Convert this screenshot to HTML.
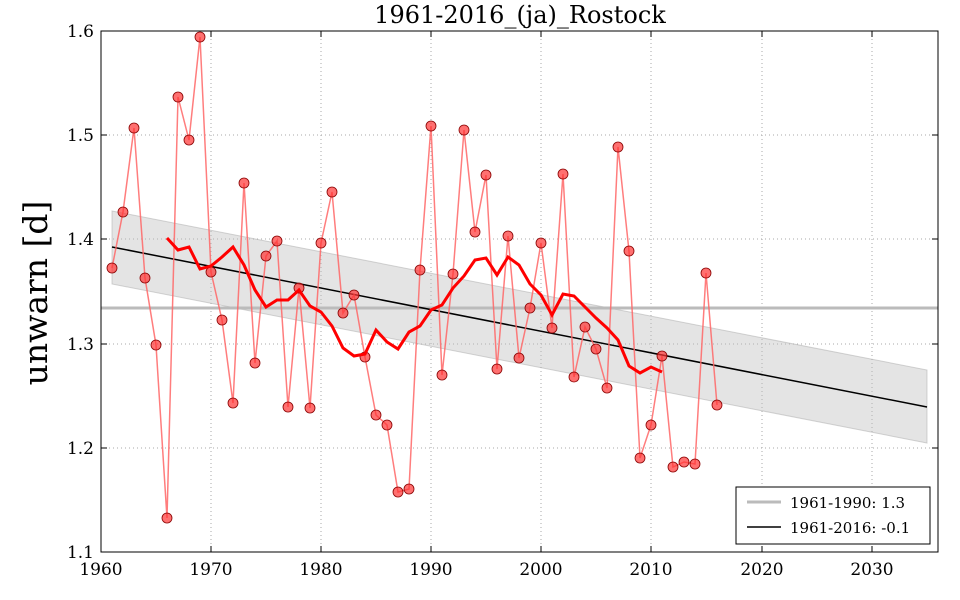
<!DOCTYPE html>
<html><head><meta charset="utf-8"><style>body{margin:0;background:#fff}svg{display:block}</style></head><body>
<svg width="960" height="600" xmlns="http://www.w3.org/2000/svg" font-family="'DejaVu Serif','Liberation Serif',serif">
<rect width="960" height="600" fill="#fff"/>
<g stroke="#aaa" stroke-dasharray="1,3" stroke-width="1">
<line x1="211" y1="31" x2="211" y2="552"/><line x1="321" y1="31" x2="321" y2="552"/><line x1="431" y1="31" x2="431" y2="552"/><line x1="541" y1="31" x2="541" y2="552"/><line x1="651" y1="31" x2="651" y2="552"/><line x1="762" y1="31" x2="762" y2="552"/><line x1="872" y1="31" x2="872" y2="552"/>
<line x1="101" y1="135" x2="938" y2="135"/><line x1="101" y1="239" x2="938" y2="239"/><line x1="101" y1="344" x2="938" y2="344"/><line x1="101" y1="448" x2="938" y2="448"/>
</g>
<polygon points="112,211 927,370 927,443 112,284" fill="#bbb" fill-opacity="0.4" stroke="#aaa" stroke-opacity="0.5"/>
<line x1="101" y1="308" x2="938" y2="308" stroke="#bbb" stroke-width="3"/>
<line x1="112" y1="247" x2="927" y2="407" stroke="#000" stroke-width="1.5"/>
<polyline fill="none" stroke="#f66" stroke-width="1.5" stroke-opacity="0.85" points="112,268 123,212 134,128 145,278 156,345 167,518 178,97 189,140 200,37 211,272 222,320 233,403 244,183 255,363 266,256 277,241 288,407 299,288 310,408 321,243 332,192 343,313 354,295 365,357 376,415 387,425 398,492 409,489 420,270 431,126 442,375 453,274 464,130 475,232 486,175 497,369 508,236 519,358 530,308 541,243 552,328 563,174 574,377 585,327 596,349 607,388 618,147 629,251 640,458 651,425 662,356 673,467 684,462 695,464 706,273 717,405"/>
<g fill="#f33" fill-opacity="0.7" stroke="#800" stroke-width="0.8">
<circle cx="112" cy="268" r="5"/><circle cx="123" cy="212" r="5"/><circle cx="134" cy="128" r="5"/><circle cx="145" cy="278" r="5"/><circle cx="156" cy="345" r="5"/><circle cx="167" cy="518" r="5"/><circle cx="178" cy="97" r="5"/><circle cx="189" cy="140" r="5"/><circle cx="200" cy="37" r="5"/><circle cx="211" cy="272" r="5"/><circle cx="222" cy="320" r="5"/><circle cx="233" cy="403" r="5"/><circle cx="244" cy="183" r="5"/><circle cx="255" cy="363" r="5"/><circle cx="266" cy="256" r="5"/><circle cx="277" cy="241" r="5"/><circle cx="288" cy="407" r="5"/><circle cx="299" cy="288" r="5"/><circle cx="310" cy="408" r="5"/><circle cx="321" cy="243" r="5"/><circle cx="332" cy="192" r="5"/><circle cx="343" cy="313" r="5"/><circle cx="354" cy="295" r="5"/><circle cx="365" cy="357" r="5"/><circle cx="376" cy="415" r="5"/><circle cx="387" cy="425" r="5"/><circle cx="398" cy="492" r="5"/><circle cx="409" cy="489" r="5"/><circle cx="420" cy="270" r="5"/><circle cx="431" cy="126" r="5"/><circle cx="442" cy="375" r="5"/><circle cx="453" cy="274" r="5"/><circle cx="464" cy="130" r="5"/><circle cx="475" cy="232" r="5"/><circle cx="486" cy="175" r="5"/><circle cx="497" cy="369" r="5"/><circle cx="508" cy="236" r="5"/><circle cx="519" cy="358" r="5"/><circle cx="530" cy="308" r="5"/><circle cx="541" cy="243" r="5"/><circle cx="552" cy="328" r="5"/><circle cx="563" cy="174" r="5"/><circle cx="574" cy="377" r="5"/><circle cx="585" cy="327" r="5"/><circle cx="596" cy="349" r="5"/><circle cx="607" cy="388" r="5"/><circle cx="618" cy="147" r="5"/><circle cx="629" cy="251" r="5"/><circle cx="640" cy="458" r="5"/><circle cx="651" cy="425" r="5"/><circle cx="662" cy="356" r="5"/><circle cx="673" cy="467" r="5"/><circle cx="684" cy="462" r="5"/><circle cx="695" cy="464" r="5"/><circle cx="706" cy="273" r="5"/><circle cx="717" cy="405" r="5"/>
</g>
<polyline fill="none" stroke="#f00" stroke-width="3" points="167,238 178,250 189,247 200,269 211,266 222,257 233,247 244,265 255,290 266,307 277,300 288,300 299,290 310,306 321,312 332,326 343,348 354,356 365,354 376,330 387,342 398,349 409,332 420,326 431,310 442,305 453,288 464,276 475,260 486,258 497,275 508,257 519,265 530,284 541,295 552,315 563,294 574,296 585,307 596,318 607,328 618,340 629,366 640,373 651,367 662,372"/>
<rect x="101" y="31" width="837" height="521" fill="none" stroke="#000" stroke-width="1"/>
<g stroke="#000">
<line x1="211" y1="552" x2="211" y2="546"/><line x1="321" y1="552" x2="321" y2="546"/><line x1="431" y1="552" x2="431" y2="546"/><line x1="541" y1="552" x2="541" y2="546"/><line x1="651" y1="552" x2="651" y2="546"/><line x1="762" y1="552" x2="762" y2="546"/><line x1="872" y1="552" x2="872" y2="546"/>
<line x1="211" y1="31" x2="211" y2="37"/><line x1="321" y1="31" x2="321" y2="37"/><line x1="431" y1="31" x2="431" y2="37"/><line x1="541" y1="31" x2="541" y2="37"/><line x1="651" y1="31" x2="651" y2="37"/><line x1="762" y1="31" x2="762" y2="37"/><line x1="872" y1="31" x2="872" y2="37"/>
<line x1="101" y1="135" x2="107" y2="135"/><line x1="101" y1="239" x2="107" y2="239"/><line x1="101" y1="344" x2="107" y2="344"/><line x1="101" y1="448" x2="107" y2="448"/>
<line x1="938" y1="135" x2="932" y2="135"/><line x1="938" y1="239" x2="932" y2="239"/><line x1="938" y1="344" x2="932" y2="344"/><line x1="938" y1="448" x2="932" y2="448"/>
</g>
<g font-size="17" text-anchor="middle">
<text x="101" y="575">1960</text><text x="211" y="575">1970</text><text x="321" y="575">1980</text><text x="431" y="575">1990</text><text x="541" y="575">2000</text><text x="651" y="575">2010</text><text x="762" y="575">2020</text><text x="872" y="575">2030</text>
</g>
<g font-size="17" text-anchor="end">
<text x="94" y="37">1.6</text><text x="94" y="141">1.5</text><text x="94" y="245">1.4</text><text x="94" y="350">1.3</text><text x="94" y="454">1.2</text><text x="94" y="558">1.1</text>
</g>
<text x="520" y="23" font-size="24" text-anchor="middle">1961-2016_(ja)_Rostock</text>
<text transform="translate(47,293) rotate(-90)" font-size="33" text-anchor="middle">unwarn [d]</text>
<rect x="736" y="487" width="194" height="57" fill="#fff" stroke="#000"/>
<line x1="747" y1="502" x2="781" y2="502" stroke="#bbb" stroke-width="3"/>
<line x1="747" y1="527" x2="781" y2="527" stroke="#000" stroke-width="1.5"/>
<text x="790" y="508" font-size="15">1961-1990: 1.3</text>
<text x="790" y="533" font-size="15">1961-2016: -0.1</text>
</svg>
</body></html>
